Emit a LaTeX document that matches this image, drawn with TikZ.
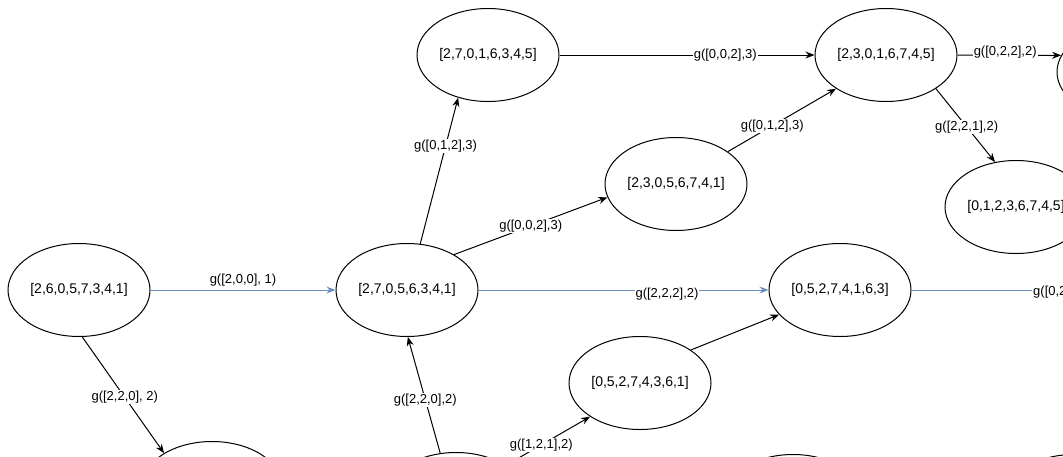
\documentclass[tikz,border=0pt]{standalone}
\usepackage{fontspec}
\setmainfont{Liberation Sans}
\usepackage{xcolor}
\usetikzlibrary{shapes.geometric,arrows.meta}
\definecolor{edgeblue}{HTML}{6C8EBF}

\begin{document}
\begin{tikzpicture}[x=1pt,y=-1pt,
  perm/.style={ellipse,draw,line width=1pt,minimum width=142pt,minimum height=93pt,inner sep=0pt,font=\fontsize{14}{16}\selectfont},
  lbl/.style={fill=white,inner sep=1pt,font=\fontsize{13}{15}\selectfont},
  arr/.style={line width=1pt,-{Stealth[length=9pt,width=7pt]}},
  bluearr/.style={arr,draw=edgeblue,fill=edgeblue}]
\useasboundingbox (0,0) rectangle (1063,456);
\clip (0,0) rectangle (1063,456);

% States
\node[perm] (A) at (79,290)  {[2,6,0,5,7,3,4,1]};
\node[perm] (B) at (407,290) {[2,7,0,5,6,3,4,1]};
\node[perm] (C) at (488,55)  {[2,7,0,1,6,3,4,5]};
\node[perm] (D) at (676,184) {[2,3,0,5,6,7,4,1]};
\node[perm] (E) at (886,55)  {[2,3,0,1,6,7,4,5]};
\node[perm] (F) at (1016,207) {[0,1,2,3,6,7,4,5]};
\node[perm] (G) at (840,290) {[0,5,2,7,4,1,6,3]};
\node[perm] (H) at (640,383) {[0,5,2,7,4,3,6,1]};

% States cut by the border
\node[perm] (I) at (212,488)  {};
\node[perm] (J) at (456,499)  {};
\node[perm] (K) at (793,501)  {};
\node[perm] (L) at (1128,72)  {};
\node[perm] (M) at (1074,501) {};

% Moves
\draw[bluearr] (A.east) -- (B.west) node[midway,yshift=10pt,font=\fontsize{13}{15}\selectfont] {g([2,0,0], 1)};
\draw[arr] (A.274) -- (I.144) node[lbl,pos=0.52] {g([2,2,0], 2)};
\draw[arr] (B.74) -- (C.235) node[lbl,pos=0.67] {g([0,1,2],3)};
\draw[arr] (B.37) -- (D.191) node[lbl,pos=0.5] {g([0,0,2],3)};
\draw[arr] (C.east) -- (E.west) node[lbl,pos=0.65] {g([0,0,2],3)};
\draw[arr] (D.32) -- (E.214) node[lbl,pos=0.41] {g([0,1,2],3)};
\draw[arr] (E.east) -- (L.166) node[lbl,pos=0.46,yshift=3pt] {g([0,2,2],2)};
\draw[arr] (E.-34) -- (F.115) node[lbl,pos=0.52] {g([2,2,1],2)};
\draw[bluearr] (B.east) -- (G.west) node[lbl,pos=0.65,yshift=-4pt,text=black] {g([2,2,2],2)};
\draw[arr] (H.33) -- (G.202);
\draw[arr] (J.109) -- (B.271) node[lbl,pos=0.46] {g([2,2,0],2)};
\draw[arr] (J.34) -- (H.214) node[lbl,pos=0.42] {g([1,2,1],2)};

% Edge leaving on the right
\node[lbl,anchor=west] (gout) at (1032,292) {g([0,2};
\draw[line width=1pt,edgeblue] (G.east) -- (G.east -| gout.west);
\end{tikzpicture}
\end{document}
